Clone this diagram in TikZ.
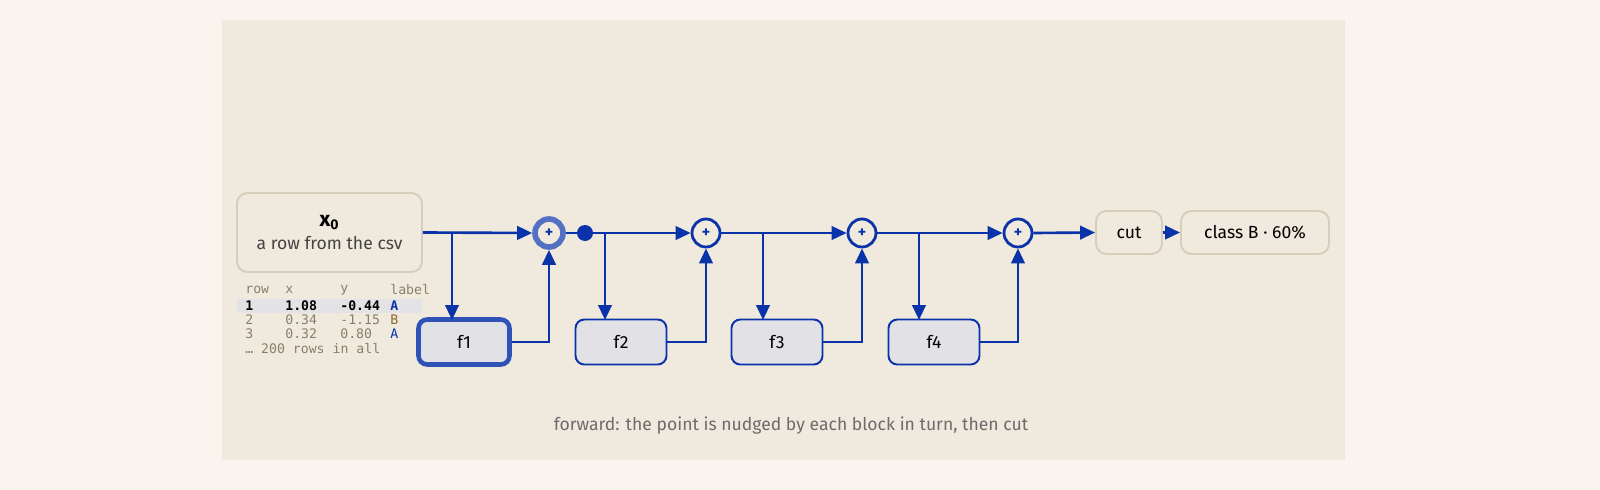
\documentclass[tikz,border=0pt]{standalone}
\usepackage{fontspec}
\setmainfont{Fira Sans}
\setmonofont{DejaVu Sans Mono}
\usetikzlibrary{arrows.meta}
\definecolor{bg}{HTML}{F9F5EE}
\definecolor{panel}{HTML}{F0E9DD}
\definecolor{edge}{HTML}{D6CDBB}
\definecolor{bl}{HTML}{0A33AA}
\definecolor{fblk}{HTML}{E2E2E6}
\definecolor{txt}{HTML}{444444}
\definecolor{mut}{HTML}{8A7F6A}
\definecolor{lb}{HTML}{8A6A2A}
\begin{document}
\begin{tikzpicture}[x=0.02cm,y=-0.02cm,
 wire/.style={bl,line width=1.5pt},
 arr/.style={wire,-{Triangle[length=0.3cm,width=0.27cm]}},
 sum/.style={circle,draw=bl,line width=1.6pt,fill=panel,minimum size=0.56cm,inner sep=0pt,font=\bfseries\small\color{bl}},
 fb/.style={draw=bl,fill=fblk,line width=1.1pt,rounded corners=5pt,minimum width=1.82cm,minimum height=0.9cm,font=\normalsize},
 gb/.style={draw=edge,fill=panel,line width=1.1pt,rounded corners=6pt,font=\normalsize},
 tb/.style={anchor=west,font=\ttfamily\fontsize{7.5}{8}\selectfont,inner sep=0pt}]
\path[use as bounding box] (0,0) rectangle (1600,490);
\fill[bg] (0,0) rectangle (1600,490);
\fill[panel] (222,20) rectangle (1345,460);
\node[gb,minimum width=3.7cm,minimum height=1.58cm,align=center,text=txt] (x0) at (329.5,232.5) {{\bfseries\large\color{black}x$_{\mathbf 0}$}\\[1pt] a row from the csv};
\fill[fblk!90!panel] (237,299) rectangle (422,313);
\node[tb,text=mut] at (245,290) {row};
\node[tb,text=mut] at (285,290) {x};
\node[tb,text=mut] at (340,290) {y};
\node[tb,text=mut] at (390,290) {label};
\node[tb,font=\ttfamily\bfseries\fontsize{7.5}{8}\selectfont] at (245,306) {1};
\node[tb,font=\ttfamily\bfseries\fontsize{7.5}{8}\selectfont] at (285,306) {1.08};
\node[tb,font=\ttfamily\bfseries\fontsize{7.5}{8}\selectfont] at (340,306) {-0.44};
\node[tb,font=\ttfamily\bfseries\fontsize{7.5}{8}\selectfont,text=bl] at (390,306) {A};
\node[tb,text=mut] at (245,320) {2};
\node[tb,text=mut] at (285,320) {0.34};
\node[tb,text=mut] at (340,320) {-1.15};
\node[tb,text=lb] at (390,320) {B};
\node[tb,text=mut] at (245,334) {3};
\node[tb,text=mut] at (285,334) {0.32};
\node[tb,text=mut] at (340,334) {0.80};
\node[tb,text=bl] at (390,334) {A};
\node[tb,text=mut] at (245,349) {… 200 rows in all};
\node[sum,draw=bl!70,line width=3.2pt] (s1) at (549,233) {+};
\fill[bl] (585,233) circle (8) coordinate (d);
\node[sum] (s2) at (706,233) {+};
\node[sum] (s3) at (862,233) {+};
\node[sum] (s4) at (1018,233) {+};
\node[fb,line width=2.6pt,draw=bl!85] (f1) at (464,342) {f1};
\node[fb] (f2) at (621,342) {f2};
\node[fb] (f3) at (777,342) {f3};
\node[fb] (f4) at (934,342) {f4};
\node[gb,minimum width=1.32cm,minimum height=0.86cm] (cut) at (1129,232.5) {cut};
\node[gb,minimum width=2.96cm,minimum height=0.86cm] (cls) at (1255,232.5) {class B · 60\%};
\draw[arr] (x0.east) -- (s1.west);
\draw[wire] (s1.east) -- (d);
\draw[arr] (d) -- (s2.west);
\draw[arr] (s2.east) -- (s3.west);
\draw[arr] (s3.east) -- (s4.west);
\draw[arr] (s4.east) -- (cut.west);
\draw[arr] (cut.east) -- (cls.west);
\draw[arr] (452,233) -- (452,320);
\draw[arr] (605,233) -- (605,320);
\draw[arr] (763,233) -- (763,320);
\draw[arr] (919,233) -- (919,320);
\draw[arr] (f1.east) -| (s1.south);
\draw[arr] (f2.east) -| (s2.south);
\draw[arr] (f3.east) -| (s3.south);
\draw[arr] (f4.east) -| (s4.south);
\node[text=gray!85!black] (cap) at (791,426) {forward: the point is nudged by each block in turn, then cut};
\end{tikzpicture}
\end{document}
